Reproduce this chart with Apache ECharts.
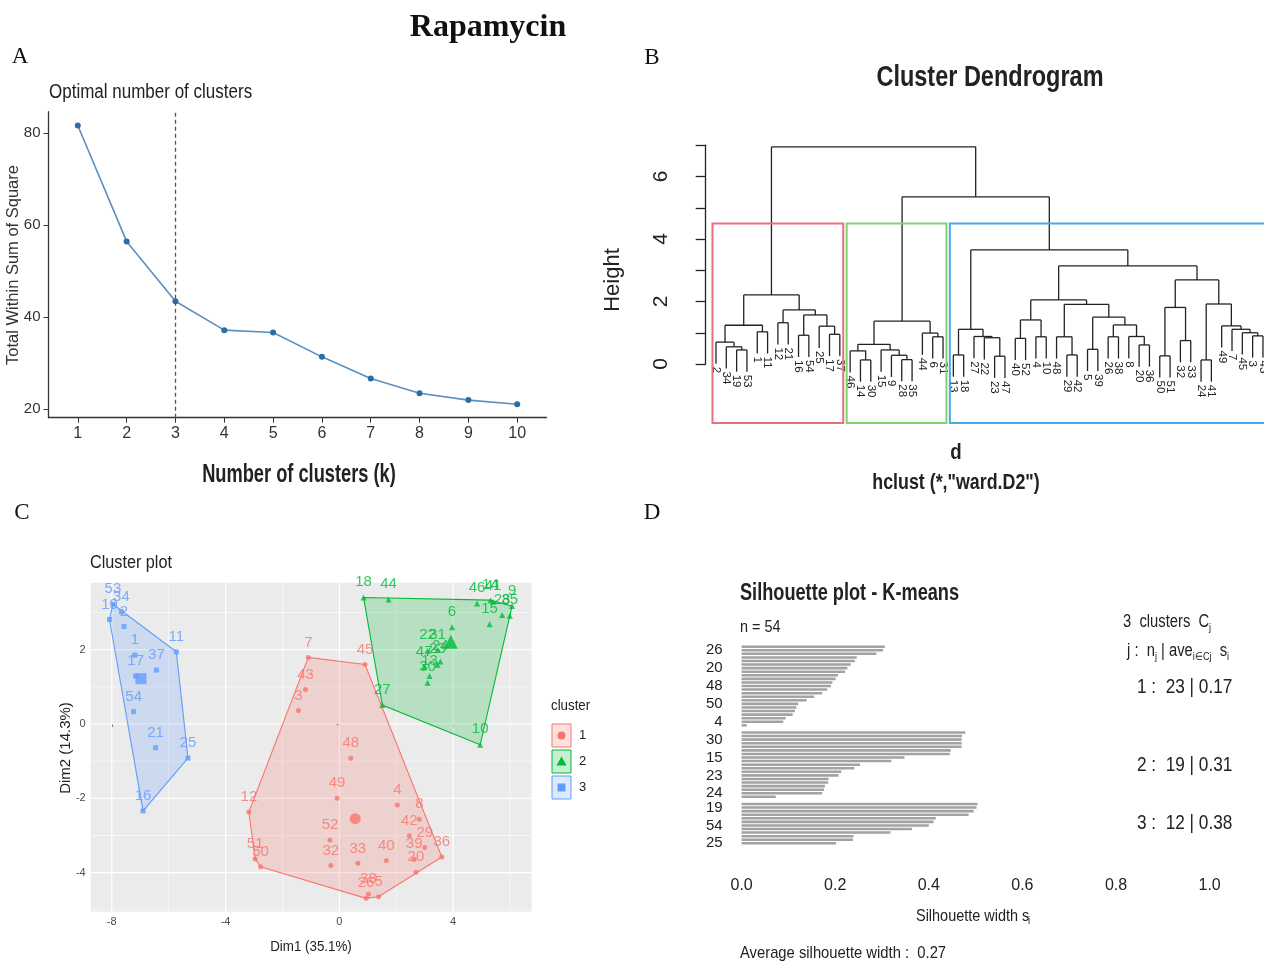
<!DOCTYPE html>
<html><head><meta charset="utf-8">
<script src="https://cdn.jsdelivr.net/npm/echarts@6/dist/echarts.min.js"></script>
<style>html,body{margin:0;padding:0;background:#fff}#c{width:1264px;height:962px}</style>
</head><body><div id="c"></div>
<script>
// ===== Panel A: elbow =====
const kValues = [1,2,3,4,5,6,7,8,9,10];
const wssValues = [81.7,56.5,43.5,37.2,36.7,31.4,26.7,23.5,22.0,21.1];
const optimalK = 3;
const wssTicks = [20,40,60,80];

// ===== Panel B: dendrogram (R hclust style: negative = leaf, positive = earlier merge) =====
const leafOrder = [2,34,19,53,1,11,12,21,16,54,25,17,37, 46,14,30,15,9,28,35,44,6,31,
  13,18,27,22,23,47,40,52,4,10,48,29,42,5,39,26,38,8,20,36,50,51,32,33,24,41,49,7,45,3,43];
const merges = [
  [-19,-53,0.45],[-34,1,0.55],[-2,2,0.70],[-1,-11,1.03],[3,4,1.24],[-12,-21,1.32],
  [-16,-54,0.92],[-17,-37,0.95],[-25,8,1.21],[7,9,1.57],[6,10,1.73],[5,11,2.21],
  [-14,-30,0.13],[-46,13,0.42],[-28,-35,0.14],[-9,15,0.28],[-15,16,0.45],[14,17,0.63],
  [-6,-31,0.87],[-44,19,0.99],[18,20,1.37],
  [-13,-18,0.29],[-23,-47,0.25],[-22,23,0.84],[-27,24,0.88],[22,25,1.11],
  [-40,-52,0.82],[-4,-10,0.87],[27,28,1.41],[-29,-42,0.29],[-48,30,0.87],
  [-5,-39,0.47],[-26,-38,0.87],[-20,-36,0.61],[-8,34,0.88],[33,35,1.25],[32,36,1.50],
  [31,37,1.91],[29,38,2.05],[-50,-51,0.26],[-32,-33,0.75],[40,41,1.81],
  [-24,-41,0.13],[-3,-43,0.90],[-45,44,1.00],[-7,45,1.11],[-49,46,1.22],[43,47,1.92],
  [42,48,2.69],[39,49,3.14],[26,50,3.65],[21,51,5.35],[12,52,6.95]
];
const heightTicks = [0,2,4,6];
const cutK = 3;

// ===== Panel C: cluster plot =====
const names1 = ['7','45','43','3','48','49','4','12','8','52','42','29','39','36','51','50','32','33','40','20','26','38','5'];
const dim1C1 = [-1.09,0.90,-1.19,-1.44,0.40,-0.08,2.04,-3.18,2.81,-0.33,2.46,3.00,2.63,3.60,-2.96,-2.77,-0.30,0.65,1.65,2.69,0.94,1.02,1.38];
const dim2C1 = [1.79,1.60,0.93,0.36,-0.92,-2.00,-2.18,-2.37,-2.56,-3.12,-3.01,-3.32,-3.64,-3.58,-3.63,-3.84,-3.81,-3.75,-3.67,-3.99,-4.69,-4.58,-4.65];
const names2 = ['18','44','46','14','41','9','28','35','15','6','22','31','24','23','47','13','30','27','10'];
const dim1C2 = [0.85,1.73,4.84,5.31,5.40,6.07,5.72,5.99,5.28,3.96,3.10,3.45,3.55,3.45,2.98,3.17,3.10,1.51,4.95];
const dim2C2 = [3.40,3.35,3.24,3.33,3.29,3.17,2.93,2.91,2.68,2.60,1.97,1.99,1.68,1.59,1.53,1.29,1.11,0.51,-0.56];
const names3 = ['53','34','19','2','1','17','37','11','54','21','25','16'];
const dim1C3 = [-7.96,-7.66,-8.08,-7.57,-7.19,-7.16,-6.43,-5.73,-7.23,-6.46,-5.32,-6.90];
const dim2C3 = [3.22,3.02,2.81,2.62,1.85,1.29,1.45,1.94,0.33,-0.64,-0.92,-2.34];
const dim1Ticks = [-8,-4,0,4];
const dim2Ticks = [-4,-2,0,2];
const dim1Minor = [-6,-2,2,6];
const dim2Minor = [-5,-3,-1,1,3];
const clusterLabels = ['1','2','3'];

// ===== Panel D: silhouette =====
const silWidth1 = [0.306,0.302,0.288,0.246,0.242,0.233,0.226,0.221,0.206,0.201,0.194,0.191,0.183,0.172,0.155,0.139,0.121,0.117,0.114,0.109,0.094,0.089,0.011];
const silWidth2 = [0.478,0.471,0.470,0.470,0.470,0.447,0.445,0.348,0.320,0.253,0.241,0.213,0.207,0.186,0.185,0.178,0.176,0.172,0.073];
const silWidth3 = [0.504,0.502,0.496,0.485,0.415,0.410,0.400,0.364,0.318,0.239,0.238,0.202];
const silNames1 = ['','26','','','','','20','','','','','48','','','','','50','','','','','4',''];
const silNames2 = ['','','30','','','','','15','','','','','23','','','','','24',''];
const silNames3 = ['','19','','','','','54','','','','','25'];
const silSizes = [23,19,12];
const silAvg = [0.17,0.31,0.38];
const silOverall = 0.27;

// ---------------------------------------------------------------
const SANS = '"Liberation Sans",Arial,sans-serif';
const SERIF = '"Liberation Serif","Times New Roman",serif';
const COL = ['#F8766D','#00BA38','#619CFF'];
const BOXCOL = ['#E8707B','#7DD36C','#4AA8EE'];

function buildDendro() {
  const pos = {};
  leafOrder.forEach((l, i) => pos[l] = i + 1);
  const maxH = Math.max(...merges.map(m => m[2]));
  const hang = 0.1 * maxH;
  const nodes = [], segs = [], leaves = [];
  function child(ref, h) {
    if (ref < 0) { const x = pos[-ref]; const yb = h - hang; leaves.push({x, y: yb, lab: String(-ref)}); return {x, h: yb, m: [x]}; }
    return nodes[ref - 1];
  }
  merges.forEach(([a, b, h]) => {
    const ca = child(a, h), cb = child(b, h);
    segs.push([ca.x, ca.h, ca.x, h], [cb.x, cb.h, cb.x, h], [ca.x, h, cb.x, h]);
    nodes.push({x: (ca.x + cb.x) / 2, h, m: ca.m.concat(cb.m)});
  });
  const sorted = merges.map((m, i) => i).sort((i, j) => merges[j][2] - merges[i][2]);
  const top = new Set(sorted.slice(0, cutK - 1));
  const roots = [];
  top.forEach(i => [merges[i][0], merges[i][1]].forEach(r => { if (!(r > 0 && top.has(r - 1))) roots.push(r); }));
  const boxes = roots.map(r => {
    const m = r < 0 ? [pos[-r]] : nodes[r - 1].m;
    return [Math.min(...m), Math.max(...m)];
  }).sort((p, q) => p[0] - q[0]);
  const cutH = (merges[sorted[cutK - 2]][2] + merges[sorted[cutK - 1]][2]) / 2;
  return {segs, leaves, boxes, cutH};
}
const dendro = buildDendro();
const dendroBottom = -1.89;

function hull(xs, ys) {
  const p = xs.map((x, i) => [x, ys[i]]).sort((a, b) => a[0] - b[0] || a[1] - b[1]);
  const cr = (o, a, b) => (a[0] - o[0]) * (b[1] - o[1]) - (a[1] - o[1]) * (b[0] - o[0]);
  const lo = [], up = [];
  for (const q of p) { while (lo.length >= 2 && cr(lo[lo.length - 2], lo[lo.length - 1], q) <= 0) lo.pop(); lo.push(q); }
  for (let i = p.length - 1; i >= 0; i--) { const q = p[i]; while (up.length >= 2 && cr(up[up.length - 2], up[up.length - 1], q) <= 0) up.pop(); up.push(q); }
  up.pop(); lo.pop(); return lo.concat(up);
}
const mean = a => a.reduce((s, v) => s + v, 0) / a.length;
const clusters = [
  {names: names1, xs: dim1C1, ys: dim2C1, sym: 'circle', size: 5, big: 11},
  {names: names2, xs: dim1C2, ys: dim2C2, sym: 'triangle', size: 6, big: 14},
  {names: names3, xs: dim1C3, ys: dim2C3, sym: 'rect', size: 5, big: 11}
];

const silSlots = [], silVals = [], silLabs = [];
[[silWidth1, silNames1], [silWidth2, silNames2], [silWidth3, silNames3]].forEach(([w, n], ci) => {
  if (ci > 0) { silSlots.push('gap' + ci); silVals.push(null); silLabs.push(''); }
  w.forEach((v, i) => { silSlots.push('c' + ci + '_' + i); silVals.push(v); silLabs.push(n[i] || ''); });
});

function T(text, x, y, o = {}) {
  return { type: 'text', x, y, rotation: o.rot || 0, silent: true, z: 100, scaleX: o.sx || 1,
    style: { text, fontSize: o.size || 14, fontFamily: o.family || SANS, fontWeight: o.weight || 'normal',
      fill: o.color || '#222', textAlign: o.align || 'left', textVerticalAlign: 'middle', rich: o.rich } };
}
const subRich = { a: {fontSize: 18, fontFamily: SANS, fill: '#222'}, s: {fontSize: 11, fontFamily: SANS, fill: '#222', padding: [11, 0, 0, 0]} };

const series = [];
series.push({ type: 'line', xAxisIndex: 0, yAxisIndex: 0, data: kValues.map((k, i) => [k, wssValues[i]]),
  symbol: 'circle', symbolSize: 6, lineStyle: {color: '#5B8FBF', width: 1.6}, itemStyle: {color: '#2E6CA6'},
  markLine: {silent: true, symbol: 'none', label: {show: false}, lineStyle: {color: '#555', type: [4, 3], width: 1.3}, data: [{xAxis: optimalK}]} });
series.push({ type: 'custom', xAxisIndex: 1, yAxisIndex: 1, clip: false, data: dendro.segs, encode: {x: [0, 2], y: [1, 3]},
  renderItem(params, api) {
    const p1 = api.coord([api.value(0), api.value(1)]), p2 = api.coord([api.value(2), api.value(3)]);
    return {type: 'line', shape: {x1: p1[0], y1: p1[1], x2: p2[0], y2: p2[1]}, style: {stroke: '#222', lineWidth: 1.3}};
  } });
series.push({ type: 'custom', xAxisIndex: 1, yAxisIndex: 1, clip: false, data: dendro.leaves.map(l => [l.x, l.y]),
  renderItem(params, api) {
    const p = api.coord([api.value(0), api.value(1)]);
    return {type: 'text', x: p[0], y: p[1] + 3, rotation: -Math.PI / 2,
      style: {text: dendro.leaves[params.dataIndex].lab, fontSize: 11.5, fontFamily: SANS, fill: '#222', textAlign: 'left', textVerticalAlign: 'middle'}};
  } });
series.push({ type: 'custom', xAxisIndex: 1, yAxisIndex: 1, clip: false,
  data: dendro.boxes.map(b => [b[0] - 0.34, dendroBottom, b[1] + 0.33, dendro.cutH]),
  renderItem(params, api) {
    const p1 = api.coord([api.value(0), api.value(3)]), p2 = api.coord([api.value(2), api.value(1)]);
    return {type: 'rect', shape: {x: p1[0], y: p1[1], width: p2[0] - p1[0], height: p2[1] - p1[1]},
      style: {fill: 'none', stroke: BOXCOL[params.dataIndex], lineWidth: 2}};
  } });
const cLines = [];
dim1Ticks.forEach(v => cLines.push([v, 0, 1])); dim1Minor.forEach(v => cLines.push([v, 0, 0]));
dim2Ticks.forEach(v => cLines.push([v, 1, 1])); dim2Minor.forEach(v => cLines.push([v, 1, 0]));
series.push({ type: 'custom', xAxisIndex: 2, yAxisIndex: 2, z: 1, silent: true, data: cLines,
  renderItem(params, api) {
    const v = api.value(0), o = api.value(1), maj = api.value(2);
    const p1 = o === 0 ? api.coord([v, -5.05]) : api.coord([-8.74, v]);
    const p2 = o === 0 ? api.coord([v, 3.80]) : api.coord([6.76, v]);
    return {type: 'line', shape: {x1: p1[0], y1: p1[1], x2: p2[0], y2: p2[1]}, style: {stroke: '#fff', lineWidth: maj ? 1.2 : 0.6}};
  } });
clusters.forEach((c, ci) => {
  const h = hull(c.xs, c.ys);
  series.push({ type: 'custom', xAxisIndex: 2, yAxisIndex: 2, z: 2, silent: true, data: [[0]],
    renderItem(params, api) {
      return {type: 'polygon', shape: {points: h.map(p => api.coord(p))},
        style: {fill: echarts.color.modifyAlpha(COL[ci], 0.22), stroke: COL[ci], lineWidth: 1.1}};
    } });
  series.push({ type: 'scatter', xAxisIndex: 2, yAxisIndex: 2, z: 3, silent: true, data: c.xs.map((x, i) => [x, c.ys[i]]),
    symbol: c.sym, symbolSize: c.size, itemStyle: {color: COL[ci]},
    label: {show: true, position: 'top', distance: 5, formatter: p => c.names[p.dataIndex], color: COL[ci], fontSize: 15, fontFamily: SANS} });
  series.push({ type: 'scatter', xAxisIndex: 2, yAxisIndex: 2, z: 3, silent: true, data: [[mean(c.xs), mean(c.ys)]],
    symbol: c.sym, symbolSize: c.big, itemStyle: {color: COL[ci]} });
});
series.push({ type: 'bar', xAxisIndex: 3, yAxisIndex: 3, data: silVals, barWidth: '72%', silent: true, itemStyle: {color: '#a2a2a2'} });

const graphic = [
  T('Rapamycin', 488, 28, {size: 32, family: SERIF, weight: 'bold', align: 'center', color: '#111'}),
  T('A', 20, 57, {size: 23, family: SERIF, align: 'center', color: '#111'}),
  T('B', 652, 58, {size: 23, family: SERIF, align: 'center', color: '#111'}),
  T('C', 22, 513, {size: 23, family: SERIF, align: 'center', color: '#111'}),
  T('D', 652, 513, {size: 23, family: SERIF, align: 'center', color: '#111'}),
  // A
  T('Optimal number of clusters', 49, 92, {size: 20, sx: 0.85}),
  T('Total Within Sum of Square', 13, 265, {size: 16.5, rot: Math.PI / 2, align: 'center', color: '#333'}),
  T('Number of clusters (k)', 299, 475, {size: 25, weight: 'bold', align: 'center', sx: 0.73}),
  // B
  T('Cluster Dendrogram', 990, 78, {size: 29, weight: 'bold', align: 'center', sx: 0.81}),
  T('Height', 613, 280, {size: 22, rot: Math.PI / 2, align: 'center', color: '#222'}),
  T('d', 956, 453, {size: 22, weight: 'bold', align: 'center', sx: 0.85}),
  T('hclust (*,"ward.D2")', 956, 483, {size: 22, weight: 'bold', align: 'center', sx: 0.81}),
  // C
  T('Cluster plot', 90, 563, {size: 18, sx: 0.9}),
  T('Dim1 (35.1%)', 311, 947, {size: 15, align: 'center', color: '#222', sx: 0.89}),
  T('Dim2 (14.3%)', 66, 748, {size: 15, rot: Math.PI / 2, align: 'center', color: '#222'}),
  T('cluster', 551, 706, {size: 14, sx: 0.95}),
  // D
  T('Silhouette plot - K-means', 740, 594, {size: 23, weight: 'bold', sx: 0.79}),
  T('n = 54', 740, 627, {size: 17, sx: 0.85}),
  T('{a|3  clusters  C}{s|j}', 1123, 622, {rich: subRich, sx: 0.82}),
  T('{a|j :  n}{s|j}{a| | ave}{s|i∈Cj}{a|  s}{s|i}', 1127, 651, {rich: subRich, sx: 0.82}),
  T('Silhouette width s', 916, 916, {size: 17, sx: 0.85}),
  T('i', 1028, 921, {size: 11, sx: 0.85}),
  T('Average silhouette width :  ' + silOverall.toFixed(2), 740, 953, {size: 17, sx: 0.87})
];
const sumY = [687, 765, 823];
silSizes.forEach((n, i) => graphic.push(T((i + 1) + ' :  ' + n + ' | ' + silAvg[i].toFixed(2), 1137, sumY[i], {size: 20, sx: 0.86})));
clusterLabels.forEach((lab, i) => {
  const y0 = 724 + i * 26;
  graphic.push({type: 'rect', shape: {x: 552, y: y0, width: 19, height: 23}, silent: true, z: 100,
    style: {fill: echarts.color.modifyAlpha(COL[i], 0.22), stroke: COL[i], lineWidth: 1}});
  const cx = 561.5, cy = y0 + 11.5;
  if (i === 0) graphic.push({type: 'circle', shape: {cx, cy, r: 4}, z: 101, style: {fill: COL[i]}});
  if (i === 1) graphic.push({type: 'polygon', shape: {points: [[cx, cy - 5], [cx - 5, cy + 4], [cx + 5, cy + 4]]}, z: 101, style: {fill: COL[i]}});
  if (i === 2) graphic.push({type: 'rect', shape: {x: cx - 4, y: cy - 4, width: 8, height: 8}, z: 101, style: {fill: COL[i]}});
  graphic.push(T(lab, 579, cy, {size: 13}));
});

const option = {
  animation: false,
  backgroundColor: '#fff',
  grid: [
    {left: 48.5, top: 111.7, width: 498, height: 306},
    {left: 694.1, top: 145.25, width: 569.9, height: 218.75},
    {left: 90.7, top: 582.7, width: 441, height: 329, show: true, backgroundColor: '#EBEBEB', borderWidth: 0},
    {left: 741.6, top: 644.9, width: 468, height: 200.2}
  ],
  xAxis: [
    {type: 'value', gridIndex: 0, min: 0.4, max: 10.6, splitLine: {show: false},
      axisLine: {lineStyle: {color: '#333', width: 1.3}},
      axisTick: {customValues: kValues, length: 5, lineStyle: {color: '#333'}},
      axisLabel: {customValues: kValues, fontSize: 16, fontFamily: SANS, color: '#333', margin: 8}},
    {type: 'value', gridIndex: 1, min: -1.12, max: 54.10, show: false},
    {type: 'value', gridIndex: 2, min: -8.74, max: 6.76, splitLine: {show: false}, axisLine: {show: false},
      axisTick: {show: true, customValues: dim1Ticks, length: 3, lineStyle: {color: '#333'}},
      axisLabel: {customValues: dim1Ticks, fontSize: 11, fontFamily: SANS, color: '#4d4d4d', margin: 5}},
    {type: 'value', gridIndex: 3, min: 0, max: 1, interval: 0.2, offset: 8, splitLine: {show: false},
      axisLine: {lineStyle: {color: '#333', width: 1.2}},
      axisTick: {length: 8, lineStyle: {color: '#333'}},
      axisLabel: {formatter: v => v.toFixed(1), fontSize: 16, fontFamily: SANS, color: '#222', margin: 24}}
  ],
  yAxis: [
    {type: 'value', gridIndex: 0, min: 18.17, max: 84.7, splitLine: {show: false},
      axisLine: {show: true, lineStyle: {color: '#333', width: 1.3}},
      axisTick: {show: true, customValues: wssTicks, length: 5, lineStyle: {color: '#333'}},
      axisLabel: {customValues: wssTicks, fontSize: 15, fontFamily: SANS, color: '#333', margin: 8}},
    {type: 'value', gridIndex: 1, min: 0, max: 7, interval: 1, splitLine: {show: false},
      axisLine: {show: true, lineStyle: {color: '#222', width: 1.3}},
      axisTick: {show: true, length: 10, lineStyle: {color: '#222', width: 1.3}},
      axisLabel: {formatter: v => heightTicks.includes(v) ? String(v) : '', rotate: 90, fontSize: 21, fontFamily: SANS, color: '#222', margin: 22}},
    {type: 'value', gridIndex: 2, min: -5.05, max: 3.80, splitLine: {show: false}, axisLine: {show: false},
      axisTick: {show: true, customValues: dim2Ticks, length: 3, lineStyle: {color: '#333'}},
      axisLabel: {customValues: dim2Ticks, fontSize: 11, fontFamily: SANS, color: '#4d4d4d', margin: 5}},
    {type: 'category', gridIndex: 3, inverse: true, data: silSlots, axisLine: {show: false}, axisTick: {show: false},
      axisLabel: {interval: 0, formatter: (v, i) => silLabs[i], fontSize: 15, fontFamily: SANS, color: '#222', margin: 19}}
  ],
  series,
  graphic
};
const chart = echarts.init(document.getElementById('c'), null, {renderer: 'canvas'});
chart.setOption(option);
</script></body></html>
